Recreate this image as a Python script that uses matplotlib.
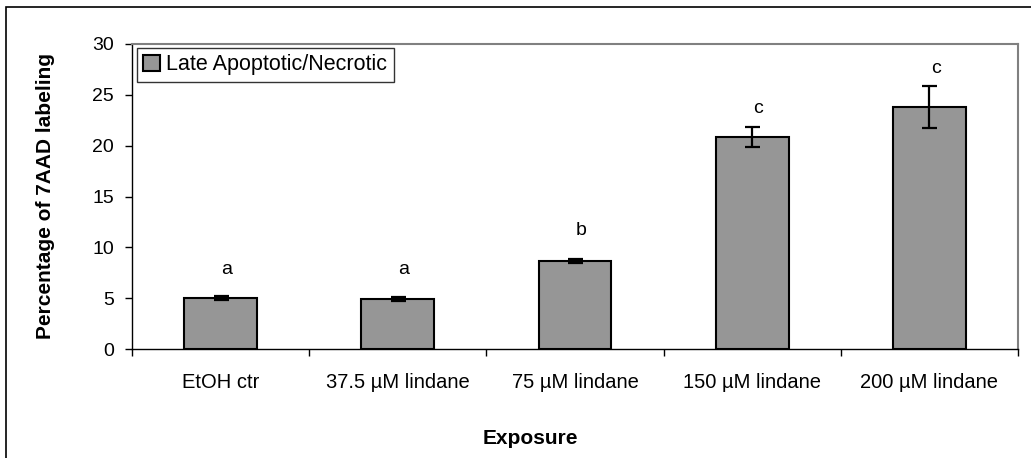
import numpy as np
import matplotlib
matplotlib.use("Agg")
import matplotlib.pyplot as plt
from matplotlib.patches import Rectangle

plt.rcParams['font.family'] = ['Liberation Sans', 'DejaVu Sans']

# data
groups = ["EtOH ctr", "37.5 \u00b5M lindane", "75 \u00b5M lindane",
          "150 \u00b5M lindane", "200 \u00b5M lindane"]
late_necrotic = [5.0, 4.95, 8.65, 20.85, 23.8]
errors = [0.2, 0.18, 0.17, 0.95, 2.05]
letters = ["a", "a", "b", "c", "c"]
letter_y = [7.4, 7.4, 11.2, 23.2, 27.1]

W, H = 1031, 458
fig = plt.figure(figsize=(W / 100, H / 100), dpi=100)

# axes placed to match the plot area in pixels
left, right, top, bottom = 132, 1018, 44, 349
ax = fig.add_axes([left / W, 1 - bottom / H, (right - left) / W, (bottom - top) / H])

x = np.arange(len(groups))
ax.bar(x, late_necrotic, width=0.41, color="#969696", edgecolor="black",
       linewidth=1.5, label="Late Apoptotic/Necrotic", zorder=2)
ax.errorbar(x, late_necrotic, yerr=errors, fmt="none", ecolor="black",
            elinewidth=1.6, capsize=5.4, capthick=1.6, zorder=3)

for i, (lt, ly) in enumerate(zip(letters, letter_y)):
    ax.text(i + 0.035, ly, lt, ha="center", va="baseline", fontsize=14)

ax.set_xlim(-0.5, len(groups) - 0.5)
ax.set_ylim(0, 30)
ax.set_yticks(np.arange(0, 31, 5))

# categories labelled at centres, ticks drawn at the boundaries
ax.set_xticks(x)
ax.set_xticklabels(groups, fontsize=14.5)
ax.tick_params(axis="x", which="major", length=0, pad=17)
ax.set_xticks(np.arange(-0.5, len(groups)), minor=True)
ax.tick_params(axis="x", which="minor", length=5, width=1, direction="out")
ax.tick_params(axis="y", length=5, width=1, direction="out", pad=8, labelsize=14)

for s in ["left", "bottom"]:
    ax.spines[s].set_color("black")
    ax.spines[s].set_linewidth(1.0)
for s in ["top", "right"]:
    ax.spines[s].set_color("#808080")
    ax.spines[s].set_linewidth(1.5)

leg = ax.legend(loc="upper left", bbox_to_anchor=(5 / 886, 301 / 305),
                borderaxespad=0, fontsize=15.5, frameon=True, fancybox=False,
                handlelength=0.75, handleheight=0.75, handletextpad=0.3,
                borderpad=0.3)
leg.get_frame().set_edgecolor("black")
leg.get_frame().set_linewidth(1.0)

fig.text(46 / W, 1 - 196 / H, "Percentage of 7AAD labeling", rotation=90,
         ha="center", va="center", fontsize=15, fontweight="bold")
fig.text(530 / W, 1 - 438 / H, "Exposure", ha="center", va="center",
         fontsize=15, fontweight="bold")

# outer chart border (runs off the right and bottom edge)
fig.patches.append(Rectangle((6 / W, -0.1), 1.2, 1.1 - 7 / H,
                             transform=fig.transFigure, fill=False,
                             edgecolor="black", linewidth=1.2))

fig.savefig("out.png", dpi=100)
